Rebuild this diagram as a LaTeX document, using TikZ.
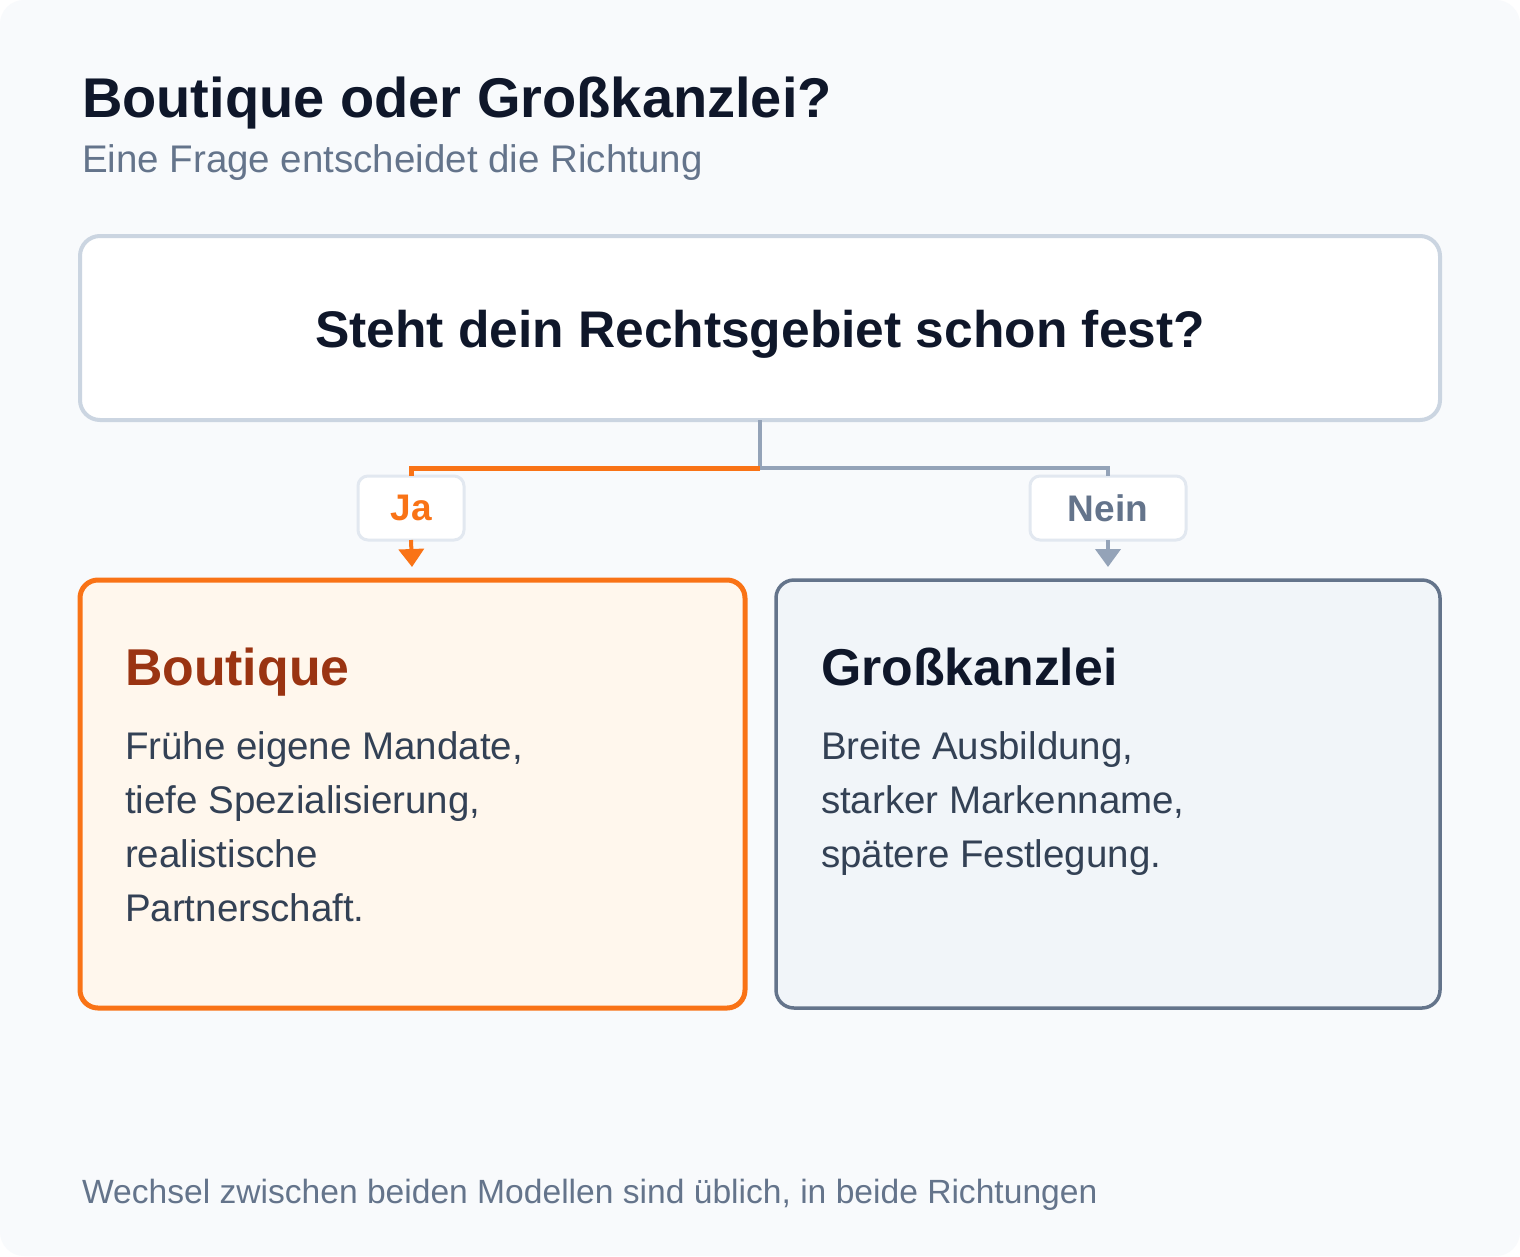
\documentclass[tikz,border=0pt]{standalone}
\usepackage{fontspec}
\setmainfont{Liberation Sans}
\usetikzlibrary{arrows.meta}

\definecolor{bgc}{HTML}{F8FAFC}
\definecolor{ink}{HTML}{0F172A}
\definecolor{muted}{HTML}{64748B}
\definecolor{qline}{HTML}{CBD5E1}
\definecolor{wire}{HTML}{94A3B8}
\definecolor{orng}{HTML}{F97316}
\definecolor{tagline}{HTML}{E2E8F0}
\definecolor{boufill}{HTML}{FFF7ED}
\definecolor{bouhead}{HTML}{9A3412}
\definecolor{body}{HTML}{334155}
\definecolor{gkfill}{HTML}{F1F5F9}

\begin{document}
\begin{tikzpicture}[x=1pt,y=-1pt]
\tikzstyle{every node}=[inner sep=0pt, outer sep=0pt]
\tikzstyle{tag}=[draw=tagline, line width=3pt, fill=white, rounded corners=10pt,
  minimum width=106pt, minimum height=64pt, font=\fontsize{37}{44}\selectfont\bfseries]
\tikzstyle{card}=[rounded corners=18pt, minimum height=428pt]
\tikzstyle{head}=[anchor=base west, font=\fontsize{51.8}{60}\selectfont\bfseries]
\tikzstyle{txt}=[anchor=north west, align=left, text=body, font=\fontsize{38.5}{54}\selectfont]
\tikzstyle{tip}=[-{Triangle[width=25pt,length=18pt]}, line width=4pt]
% page
\fill[white] (0,0) rectangle (1520,1256);
\fill[bgc, rounded corners=24pt] (0,0) rectangle (1520,1256);
\useasboundingbox (0,0) rectangle (1520,1256);
\draw (82,117) node (title) [anchor=base west, text=ink, font=\fontsize{56}{66}\selectfont\bfseries] {Boutique oder Großkanzlei?};
\draw (82,172) node (sub) [anchor=base west, text=muted, font=\fontsize{38.5}{44}\selectfont] {Eine Frage entscheidet die Richtung};
% question
\draw (760,328) node (q) [draw=qline, line width=4pt, fill=white, rounded corners=20pt,
  minimum width=1360pt, minimum height=184pt, text height=38pt, text depth=0pt,
  text=ink, font=\fontsize{51.5}{60}\selectfont\bfseries] {Steht dein Rechtsgebiet schon fest?};
\draw (411,508) node (ja) [tag, text=orng] {Ja};
\draw (1108,508) node (nein) [tag, minimum width=156pt, text=muted] {Nein};
\draw (412.5,794) node (bou) [card, draw=orng, line width=5pt, fill=boufill, minimum width=665pt] {};
\draw (1108,794) node (gk) [card, draw=muted, line width=3.5pt, fill=gkfill, minimum width=664pt] {};
% wires
\coordinate (fork) at (760,468);
\draw[wire, line width=4pt] (q.south) -- (fork);
\draw[wire, line width=4pt] (fork) -| (nein.north);
\draw[orng, line width=5pt] (fork) -| (ja.north);
\draw[orng, tip, shorten >=13pt] (ja.south) -- (bou.north);
\draw[wire, tip, shorten >=13pt] (nein.south) -- (gk.north);
% card texts
\draw (125,685) node (bouh) [head, text=bouhead] {Boutique};
\draw (125,732) node (bout) [txt] {Frühe eigene Mandate,\\tiefe Spezialisierung,\\realistische\\Partnerschaft.};
\draw (821,685) node (gkh) [head, text=ink] {Großkanzlei};
\draw (821,732) node (gkt) [txt] {Breite Ausbildung,\\starker Markenname,\\spätere Festlegung.};
\draw (82,1203) node (foot) [anchor=base west, text=muted, font=\fontsize{33.6}{40}\selectfont] {Wechsel zwischen beiden Modellen sind üblich, in beide Richtungen};
\end{tikzpicture}
\end{document}
